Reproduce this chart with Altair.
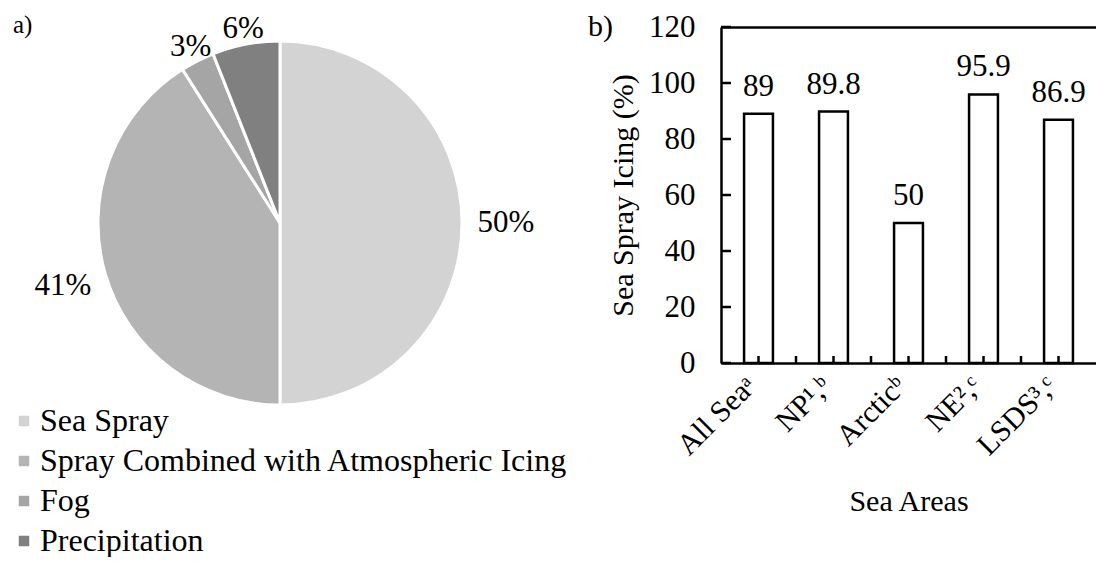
import altair as alt
import pandas as pd

FONT = "Liberation Serif"

# ---- panel a) data ----
causes = ["Sea Spray", "Spray Combined with Atmospheric Icing", "Fog", "Precipitation"]
shares = [50, 41, 3, 6]
cause_colors = ["#d3d3d3", "#b4b4b4", "#a5a5a5", "#808080"]

# ---- panel b) data ----
areas = ["All Seaᵃ", "NP¹,ᵇ", "Arcticᵇ", "NE²,ᶜ", "LSDS³,ᶜ"]
icing = [89, 89.8, 50, 95.9, 86.9]
icing_labels = ["89", "89.8", "50", "95.9", "86.9"]
y_ticks = [0, 20, 40, 60, 80, 100, 120]

TWO_PI = 6.283185307179586

# ---------------- pie ----------------
pie_df = pd.DataFrame({
    "cause": causes,
    "share": shares,
    "order": list(range(len(causes))),
    "label": [f"{s}%" for s in shares],
})

arcs = alt.Chart(pie_df).mark_arc(outerRadius=182, stroke="white", strokeWidth=3).encode(
    theta=alt.Theta("share:Q", stack=True),
    order=alt.Order("order:Q"),
    color=alt.Color(
        "cause:N",
        scale=alt.Scale(domain=causes, range=cause_colors),
        legend=alt.Legend(
            title=None, orient="none", legendX=-4, legendY=378, direction="vertical",
            labelFont=FONT, labelFontSize=32, labelColor="black", labelLimit=800,
            symbolType="square", symbolSize=110, symbolStrokeWidth=0,
            labelOffset=0, rowPadding=8, padding=0,
        ),
    ),
)

# label angles: middle of each slice, computed from the cumulative shares
label_base = alt.Chart(pie_df).transform_window(
    cum="sum(share)", sort=[alt.SortField("order")], frame=[None, 0]
).transform_joinaggregate(
    total="sum(share)"
).transform_calculate(
    mid="(datum.cum - datum.share / 2) / datum.total"
).encode(
    theta=alt.Theta("mid:Q", scale=alt.Scale(domain=[0, 1], range=[0, TWO_PI])),
    text="label:N",
)

big_labels = label_base.transform_filter("datum.share >= 10").mark_text(
    radius=226, font=FONT, fontSize=31, color="black"
)
small_labels = label_base.transform_filter("datum.share < 10").mark_text(
    radius=197, font=FONT, fontSize=31, color="black"
)

a_label = alt.Chart(pd.DataFrame({"t": ["a)"]})).mark_text(
    align="left", baseline="middle", font=FONT, fontSize=25, color="black"
).encode(text="t:N", x=alt.value(1), y=alt.value(-2))

pie = alt.layer(arcs, big_labels, small_labels, a_label).resolve_scale(
    theta="independent"
).properties(width=536, height=392)

# ---------------- bars ----------------
bar_df = pd.DataFrame({"area": areas, "icing": icing, "label": icing_labels})
ytick_df = pd.DataFrame({"v": y_ticks})
bound_df = pd.DataFrame({"area": areas[1:]})

xscale = alt.Scale(domain=areas, paddingInner=0, paddingOuter=0)
yscale = alt.Scale(domain=[0, 120], nice=False)

yaxis = alt.Axis(
    title="Sea Spray Icing (%)", values=y_ticks, grid=False, ticks=False, tickSize=0,
    domainColor="black", domainWidth=2.5,
    labelFont=FONT, labelFontSize=31, labelColor="black", labelPadding=26,
    titleFont=FONT, titleFontSize=30, titleFontWeight="normal", titleColor="black",
    titlePadding=10,
)


def ydef(field):
    return alt.Y(field, scale=yscale, axis=yaxis)


bars = alt.Chart(bar_df).mark_bar(
    fill="white", stroke="black", strokeWidth=2.5, width=alt.RelativeBandSize(0.385)
).encode(
    x=alt.X("area:N", scale=xscale, axis=alt.Axis(
        title="Sea Areas", labelAngle=-45, labelBaseline="middle", labelAlign="right",
        labelOffset=-7,
        ticks=False, tickSize=0, grid=False,
        domainColor="black", domainWidth=2.5,
        labelFont=FONT, labelFontSize=30, labelColor="black", labelPadding=18, labelLimit=400,
        titleFont=FONT, titleFontSize=30, titleFontWeight="normal", titleColor="black",
        titlePadding=26,
    )),
    y=ydef("icing:Q"),
)

values_text = alt.Chart(bar_df).mark_text(
    baseline="alphabetic", dy=-18, font=FONT, fontSize=31, color="black"
).encode(
    x=alt.X("area:N", scale=xscale, axis=alt.Axis(
        orient="top", labels=False, ticks=False, title=None, grid=False,
        domainColor="black", domainWidth=2.5,
    )),
    y=ydef("icing:Q"),
    text="label:N",
)

center_ticks = alt.Chart(bar_df).mark_rule(color="black", strokeWidth=2.5).encode(
    x=alt.X("area:N", scale=xscale, bandPosition=0.5, axis=None),
    y=alt.datum(0),
    y2=alt.datum(2.5),
)

bound_ticks = alt.Chart(bound_df).mark_rule(color="black", strokeWidth=2.5).encode(
    x=alt.X("area:N", scale=xscale, bandPosition=0, axis=None),
    y=alt.datum(0),
    y2=alt.datum(2.5),
)

y_inner_ticks = alt.Chart(ytick_df).mark_rule(color="black", strokeWidth=2.5).encode(
    y=ydef("v:Q"),
    x=alt.value(0),
    x2=alt.value(10),
)

b_label = alt.Chart(pd.DataFrame({"t": ["b)"]})).mark_text(
    align="left", baseline="middle", font=FONT, fontSize=30, color="black"
).encode(text="t:N", x=alt.value(-133), y=alt.value(0))

bar_chart = alt.layer(
    bars, values_text, center_ticks, bound_ticks, y_inner_ticks, b_label
).resolve_axis(x="independent").properties(width=375, height=336)

chart = alt.hconcat(pie, bar_chart, spacing=173, bounds="flush").properties(
    padding={"left": 0, "top": 3, "right": 0, "bottom": 0}
).configure_view(stroke=None)

chart.save("out.html", embed_options={"renderer": "svg", "actions": False})
